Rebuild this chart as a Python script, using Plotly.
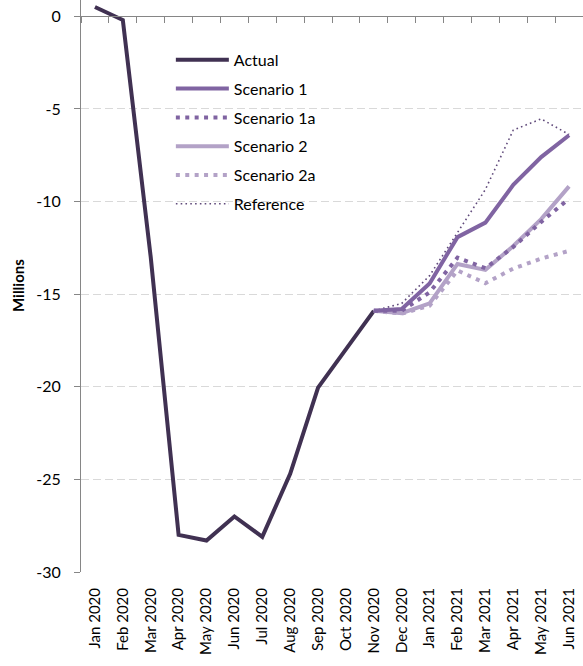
import plotly.graph_objects as go

months = ["Jan 2020", "Feb 2020", "Mar 2020", "Apr 2020", "May 2020", "Jun 2020",
          "Jul 2020", "Aug 2020", "Sep 2020", "Oct 2020", "Nov 2020", "Dec 2020",
          "Jan 2021", "Feb 2021", "Mar 2021", "Apr 2021", "May 2021", "Jun 2021"]

actual = [0.5, -0.2, -13.0, -28.0, -28.3, -27.0, -28.1, -24.7, -20.05, -18.0, -15.9]
scen_months = months[10:]
scenario1 = [-15.9, -15.8, -14.42, -11.92, -11.14, -9.1, -7.6, -6.42]
scenario1a = [-15.9, -15.9, -14.9, -13.03, -13.6, -12.45, -11.1, -9.85]
scenario2 = [-15.9, -16.03, -15.5, -13.37, -13.69, -12.4, -10.95, -9.18]
scenario2a = [-15.9, -16.05, -15.62, -13.72, -14.41, -13.62, -13.08, -12.66]
reference = [-15.9, -15.5, -14.0, -11.7, -9.35, -6.14, -5.54, -6.38]

yticks = [0, -5, -10, -15, -20, -25, -30]

C_ACT = "#403152"
C_S1 = "#8064A2"
C_S2 = "#B3A2C7"
C_REF = "#604A7B"
FONT = "Lato"

fig = go.Figure()
fig.add_trace(go.Scatter(x=months[:len(actual)], y=actual, mode="lines", name="Actual",
                         legendgroup="a", legendrank=1, line=dict(color=C_ACT, width=4)))
fig.add_trace(go.Scatter(x=scen_months, y=reference, mode="lines", name="Reference",
                         legendgroup="f", legendrank=6,
                         line=dict(color=C_REF, width=1.6, dash="1.6px,3.2px")))
fig.add_trace(go.Scatter(x=scen_months, y=scenario2a, mode="lines", name="Scenario 2a",
                         legendgroup="e", legendrank=5,
                         line=dict(color=C_S2, width=4, dash="4px,5.4px")))
fig.add_trace(go.Scatter(x=scen_months, y=scenario2, mode="lines", name="Scenario 2",
                         legendgroup="d", legendrank=4,
                         line=dict(color=C_S2, width=4)))
fig.add_trace(go.Scatter(x=scen_months, y=scenario1a, mode="lines", name="Scenario 1a",
                         legendgroup="c", legendrank=3,
                         line=dict(color=C_S1, width=4, dash="4px,5.4px")))
fig.add_trace(go.Scatter(x=scen_months, y=scenario1, mode="lines", name="Scenario 1",
                         legendgroup="b", legendrank=2,
                         line=dict(color=C_S1, width=4)))

# invisible trace to carry the zero-line axis
fig.add_trace(go.Scatter(x=months, y=[None] * len(months), xaxis="x2", showlegend=False,
                         hoverinfo="skip", mode="lines"))

fig.update_layout(
    width=583, height=666,
    margin=dict(l=81, r=0, t=0, b=94, autoexpand=False),
    paper_bgcolor="white", plot_bgcolor="white",
    font=dict(family=FONT, size=15, color="#000000"),
    showlegend=True,
    legend=dict(x=0.179, y=0.925, xanchor="left", yanchor="top",
                bgcolor="rgba(0,0,0,0)", font=dict(family=FONT, size=16, color="#000"),
                itemwidth=53, traceorder="grouped", tracegroupgap=5),
    xaxis=dict(type="category", categoryorder="array", categoryarray=months,
               range=[-0.5, len(months) - 0.5], showgrid=False, showline=False,
               ticks="", tickangle=-90, ticklabelstandoff=12, automargin=False,
               tickfont=dict(family=FONT, size=15, color="#000")),
    xaxis2=dict(type="category", categoryorder="array", categoryarray=months,
                range=[-0.5, len(months) - 0.5], overlaying="x", anchor="free",
                position=30 / 30.88, showgrid=False, showline=True, linecolor="#868686",
                linewidth=1, ticks="outside", tickson="boundaries", ticklen=6,
                tickcolor="#868686", showticklabels=False, automargin=False),
    yaxis=dict(range=[-30, 0.88], tickvals=yticks, ticktext=[str(v) for v in yticks],
               showgrid=True, gridcolor="#D9D9D9", gridwidth=1, griddash="8px,4px",
               zeroline=False, showline=True, linecolor="#868686", linewidth=1,
               ticks="outside", ticklen=6, tickcolor="#868686", ticklabelstandoff=10,
               automargin=False,
               tickfont=dict(family=FONT, size=16, color="#000")),
    annotations=[dict(text="<b>Millions</b>", textangle=-90, xref="paper", yref="paper",
                      x=-63 / 502, y=0.5, xanchor="center", yanchor="middle",
                      showarrow=False, font=dict(family=FONT, size=15, color="#000"))],
)

fig.write_html("out.html", config={"displayModeBar": False},
               post_script="document.body.style.margin='0';document.body.style.overflow='hidden';")
